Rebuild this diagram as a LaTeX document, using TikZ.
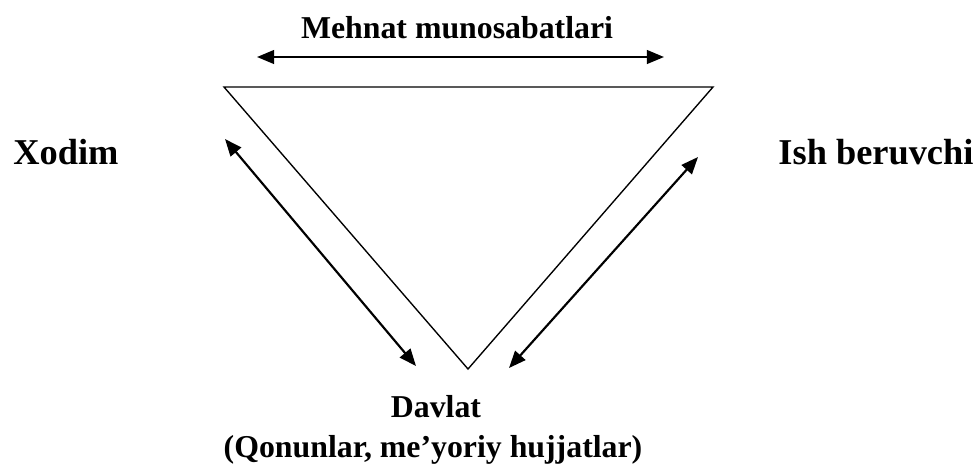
\documentclass[tikz,border=0pt]{standalone}
\usepackage{fontspec}
\setmainfont{Liberation Serif}
\usepackage{tikz}
\usetikzlibrary{positioning,arrows.meta}

\begin{document}
\begin{tikzpicture}[
      x=0.44pt, y=-0.44pt,
      lbl/.style={font=\fontsize{14}{17}\selectfont\bfseries, inner sep=0pt, anchor=base},
      side/.style={font=\fontsize{16}{19}\selectfont\bfseries, inner sep=0pt, anchor=base west},
      arr/.style={{Triangle[length=7.5pt,width=6pt]}-{Triangle[length=7.5pt,width=6pt]}, line width=0.95pt},
      edge/.style={line width=0.6pt, line join=miter},
    ]
    \useasboundingbox (0,0) rectangle (979,465);
    % triangle corners
    \coordinate (tl) at (224,87);
    \coordinate (tr) at (713,87);
    \coordinate (bt) at (468,369);
    \draw[edge] (tl) -- (tr) -- (bt) -- cycle;
    % labels
    \node[lbl] (mehnat) at (457,38) {Mehnat munosabatlari};
    \node[side] (xodim) at (13,164) {Xodim};
    \node[side] (ish) at (778,164) {Ish beruvchi};
    \node[lbl] (davlat) at (436,417) {Davlat};
    \node[lbl] (hujjat) at (433,457) {(Qonunlar, me’yoriy hujjatlar)};
    % arrow ends
    \coordinate (m1) at (257,57);
    \coordinate (m2) at (664,57);
    \coordinate (x1) at (225,139);
    \coordinate (x2) at (416,366);
    \coordinate (i1) at (698,157);
    \coordinate (i2) at (509,368);
    \draw[arr] (m1) -- (m2);
    \draw[arr] (x1) -- (x2);
    \draw[arr] (i1) -- (i2);
  \end{tikzpicture}
\end{document}
